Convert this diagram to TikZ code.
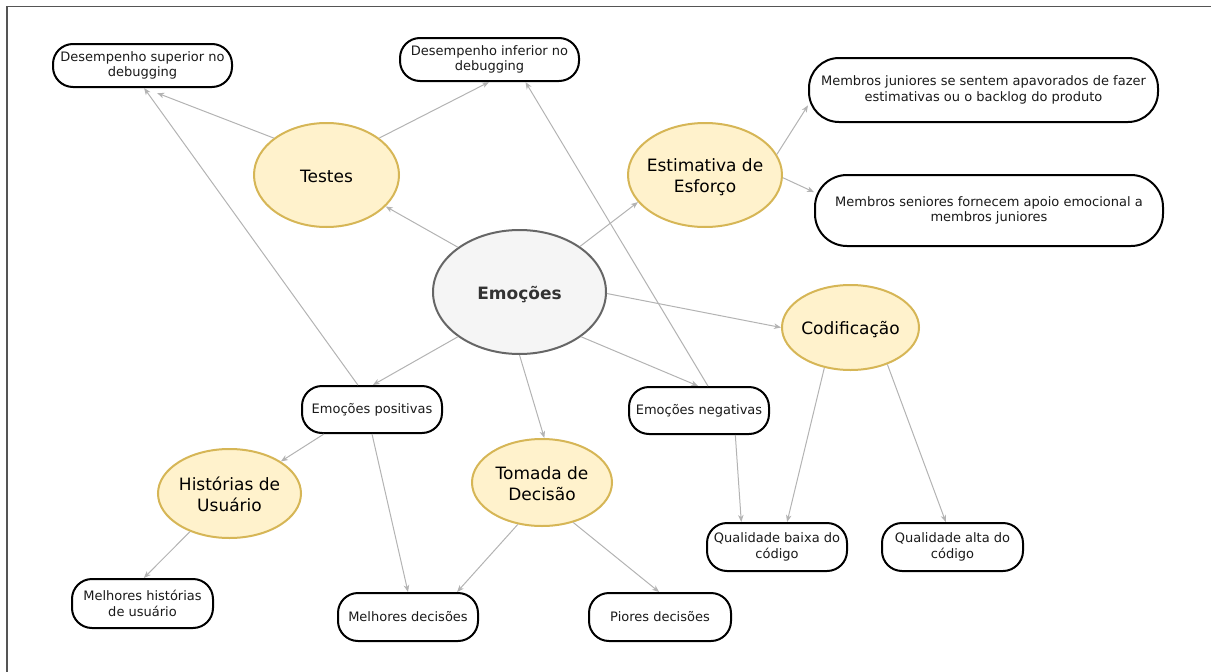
\documentclass[tikz,border=0pt]{standalone}
\usepackage{fontspec}
\setmainfont{DejaVu Sans}
\usetikzlibrary{shapes.geometric,arrows.meta}

\definecolor{topicfill}{HTML}{FFF2CC}
\definecolor{topicline}{HTML}{D6B656}
\definecolor{corefill}{HTML}{F5F5F5}
\definecolor{coreline}{HTML}{666666}
\definecolor{coretext}{HTML}{333333}
\definecolor{linkgray}{HTML}{B3B3B3}
\definecolor{framegray}{HTML}{555555}
\definecolor{inktext}{HTML}{1A1A1A}

% text block of zero size, so an ellipse keeps exactly the size it is given;
% the leading skip lowers the lines a little below the exact centre
\newcommand{\ovaltext}[1]{\vbox to 0pt{\vskip 6pt\vss\hbox to 0pt{\hss\begin{tabular}{@{}c@{}}#1\end{tabular}\hss}\vss}}

\begin{document}
\begin{tikzpicture}[x=1pt,y=-1pt,
  leaf/.style={draw=black, line width=2pt, fill=white, rounded corners=#1,
    align=center, inner sep=0pt, text=inktext,
    font=\fontsize{13}{15.6}\selectfont},
  leaf/.default=20pt,
  size/.style 2 args={minimum width=#1pt, minimum height=#2pt},
  topic/.style={ellipse, draw=topicline, line width=2pt, fill=topicfill,
    inner sep=0pt, text=black, font=\fontsize{17}{21}\selectfont},
  core/.style={ellipse, draw=coreline, line width=2pt, fill=corefill,
    inner sep=0pt, text=coretext, font=\fontsize{17}{21}\selectfont\bfseries},
  link/.style={draw=linkgray, line width=1pt,
    -{Stealth[length=7pt,width=5.5pt,inset=2pt]}}
]
\useasboundingbox (0,0) rectangle (1211,672);

% page frame (top and left rules)
\draw[framegray, line width=1.2pt] (7,672) -- (7,6.5) -- (1211,6.5);

% central concept
\node[core, size={173}{124}] (emo) at (519.5,292) {\ovaltext{Emoções}};

% activity topics
\node[topic, size={145}{104}] (testes) at (326.5,175) {\ovaltext{Testes}};
\node[topic, size={154}{104}] (estim) at (705,175) {\ovaltext{Estimativa de\\Esforço}};
\node[topic, size={137}{85}] (cod) at (850.5,327.5) {\ovaltext{Codificação}};
\node[topic, size={143}{89}] (hist) at (229.5,493.5) {\ovaltext{Histórias de\\Usuário}};
\node[topic, size={140}{87}] (tom) at (542,482.5) {\ovaltext{Tomada de\\Decisão}};

% outcomes
\node[leaf, size={179}{43}] (dsup) at (142.5,65.5) {Desempenho superior no\\debugging};
\node[leaf, size={179}{43}] (dinf) at (489.5,59.5) {Desempenho inferior no\\debugging};
\node[leaf=30pt, size={349}{64}] (mjun) at (983.5,90) {Membros juniores se sentem apavorados de fazer\\estimativas ou o backlog do produto};
\node[leaf=32pt, size={348}{71}] (msen) at (989,210.5) {Membros seniores fornecem apoio emocional a\\membros juniores};
\node[leaf, size={140}{47}] (epos) at (372,409.5) {Emoções positivas};
\node[leaf, size={140}{47}] (eneg) at (699,410.5) {Emoções negativas};
\node[leaf, size={140}{48}] (qbai) at (777,547) {Qualidade baixa do\\código};
\node[leaf, size={141}{48}] (qalt) at (952.5,547) {Qualidade alta do\\código};
\node[leaf, size={142}{48}] (pior) at (660,617) {Piores decisões};
\node[leaf, size={140}{48}] (mdec) at (408,617) {Melhores decisões};
\node[leaf, size={141}{49}] (mhis) at (142.5,603.5) {Melhores histórias\\de usuário};

% connectors
\draw[link] (emo.144) -- (testes.-28);
\draw[link] (emo.37) -- (estim.202);
\draw[link] (emo.-1) -- (cod.180);
\draw[link] (emo.216) -- (epos.88);
\draw[link] (emo.-90) -- (tom.87);
\draw[link] (emo.-36) -- (eneg.92);

\draw[link, shorten >=14pt] (testes.145) -- (dsup.-86);
\draw[link] (testes.35) -- (dinf.-91);
\draw[link] (epos.120) -- (dsup.-86);
\draw[link] (eneg.70) -- (dinf.-32);

\draw[link] (estim.16) -- (mjun.185);
\draw[link] (estim.-2) -- (msen.174);

\draw[link] (epos.207) -- (hist.32);
\draw[link] (epos.-90) -- (mdec.90);
\draw[link] (hist.224) -- (mhis.87);
\draw[link] (tom.240) -- (mdec.27);
\draw[link] (tom.-52) -- (pior.92);

\draw[link] (eneg.-34) -- (qbai.145);
\draw[link] (cod.237) -- (qbai.68);
\draw[link] (cod.-45) -- (qalt.105);
\end{tikzpicture}
\end{document}
